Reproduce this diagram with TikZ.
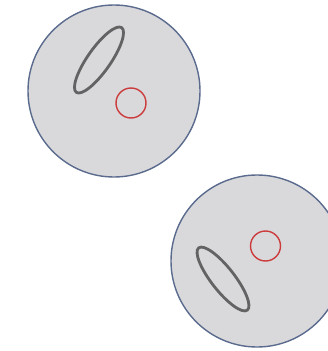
\documentclass[tikz,border=0pt]{standalone}
\usetikzlibrary{shapes.geometric}
\definecolor{diskfill}{HTML}{D9D9DC}
\definecolor{diskline}{HTML}{5B6B8E}
\definecolor{ovalline}{HTML}{636363}
\definecolor{ringline}{HTML}{CC3B3B}
\begin{document}
\begin{tikzpicture}[x=1pt, y=-1pt]
    \tikzset{
        disk/.style={circle, draw=diskline, fill=diskfill, line width=1.4pt, minimum size=172pt, inner sep=0pt},
        oval/.style={ellipse, draw=ovalline, line width=2.8pt, minimum width=79pt, minimum height=23pt, inner sep=0pt},
        ring/.style={circle, draw=ringline, line width=1.4pt, minimum size=30pt, inner sep=0pt}
    }
    \useasboundingbox (0,0) rectangle (328,351);
    \clip (0,0) rectangle (328,351);

        % upper plate
        \node[disk] (upper) at (114,91) {};
        \node[oval, rotate=55] (upperoval) at (99,60) {};
        \node[ring] (upperring) at (131,103) {};

        % lower plate
        \node[disk] (lower) at (257,261) {};
        \node[oval, rotate=-52] (loweroval) at (223,279) {};
        \node[ring] (lowerring) at (265.5,246) {};

    \end{tikzpicture}
\end{document}
